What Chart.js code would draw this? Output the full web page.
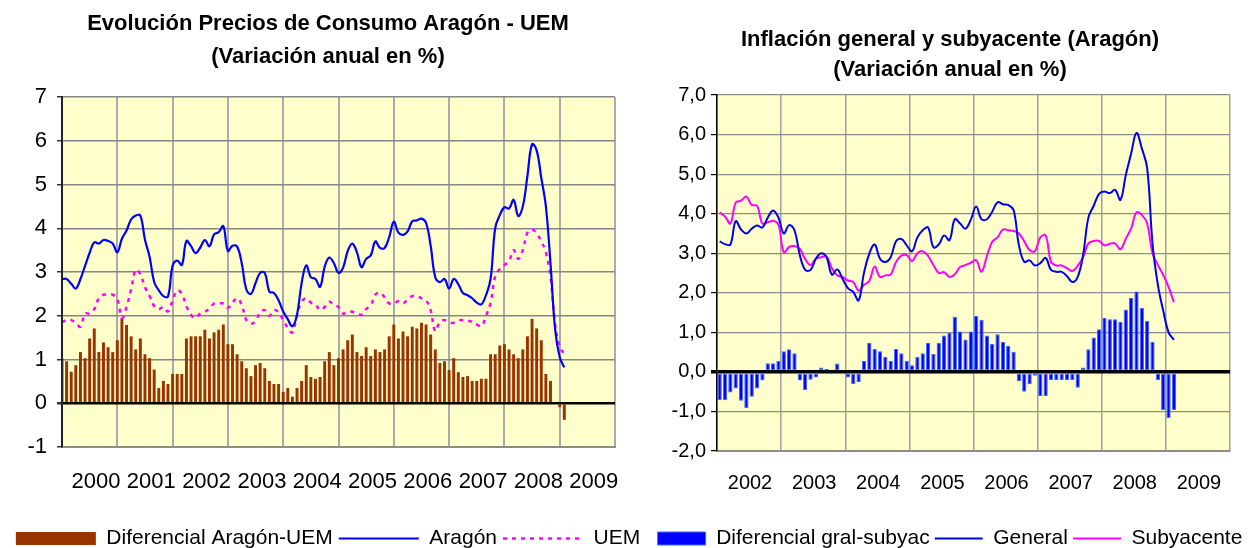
<!DOCTYPE html>
<html lang="es">
<head>
<meta charset="utf-8">
<title>IPC Aragón - UEM</title>
<script src="https://cdn.jsdelivr.net/npm/chart.js@4.4.1/dist/chart.umd.min.js"></script>
<style>
  html, body { margin: 0; padding: 0; background: #fff; }
  #wrap { position: relative; width: 1250px; height: 548px; background: #fff; overflow: hidden; }
  #left { position: absolute; left: 0; top: 0; }
  #right { position: absolute; left: 650px; top: 0; }
</style>
</head>
<body>
<div id="wrap">
  <canvas id="left" width="656" height="548"></canvas>
  <canvas id="right" width="600" height="548"></canvas>
</div>
<script>
// Left chart: monthly series, ene-2000 .. feb-2009
const years1 = ['2000', '2001', '2002', '2003', '2004', '2005', '2006', '2007', '2008', '2009'];

const difAragonUem = [
  1.03, 0.96, 0.72, 0.87, 1.17, 1.03, 1.48, 1.71, 1.17, 1.39, 1.28, 1.17,
  1.44, 1.95, 1.79, 1.53, 1.23, 1.48, 1.12, 1.03, 0.77, 0.35, 0.51, 0.44,
  0.67, 0.67, 0.67, 1.48, 1.53, 1.53, 1.53, 1.68, 1.48, 1.62, 1.68, 1.80,
  1.35, 1.35, 1.12, 0.96, 0.80, 0.62, 0.87, 0.92, 0.80, 0.51, 0.44, 0.44,
  0.26, 0.35, 0.15, 0.35, 0.51, 0.87, 0.60, 0.56, 0.60, 0.96, 1.17, 0.87,
  1.03, 1.23, 1.44, 1.57, 1.17, 1.08, 1.28, 1.08, 1.23, 1.17, 1.23, 1.53,
  1.80, 1.48, 1.64, 1.53, 1.75, 1.71, 1.84, 1.80, 1.57, 1.23, 0.92, 0.96,
  0.76, 1.03, 0.71, 0.60, 0.62, 0.51, 0.51, 0.56, 0.56, 1.12, 1.12, 1.32,
  1.35, 1.23, 1.12, 1.03, 1.23, 1.53, 1.93, 1.71, 1.44, 0.67, 0.51, 0.00,
  -0.09, -0.38
];

const aragon = [
  2.84, 2.84, 2.73, 2.62, 2.84, 3.14, 3.44, 3.68, 3.65, 3.73, 3.71, 3.65,
  3.45, 3.76, 3.95, 4.20, 4.29, 4.29, 3.74, 3.35, 2.77, 2.58, 2.45, 2.44,
  3.14, 3.26, 3.16, 3.71, 3.59, 3.43, 3.56, 3.73, 3.59, 3.86, 3.91, 4.05,
  3.48, 3.60, 3.58, 3.20, 2.60, 2.50, 2.75, 2.98, 2.98, 2.55, 2.52, 2.35,
  2.10, 1.92, 1.76, 2.02, 2.75, 3.15, 2.88, 2.84, 2.66, 3.12, 3.33, 3.20,
  2.98, 3.10, 3.48, 3.65, 3.45, 3.11, 3.30, 3.38, 3.70, 3.55, 3.55, 3.80,
  4.15, 3.90, 3.85, 3.93, 4.16, 4.18, 4.22, 4.12, 3.60, 2.88, 2.77, 2.84,
  2.62, 2.84, 2.72, 2.52, 2.47, 2.40, 2.30, 2.26, 2.47, 2.84, 4.00, 4.30,
  4.48, 4.45, 4.65, 4.28, 4.50, 5.20, 5.92, 5.78, 5.15, 4.50, 3.20, 1.70,
  1.05, 0.82
];

const uem = [
  1.85, 1.90, 1.90, 1.83, 1.75, 2.05, 2.05, 2.15, 2.40, 2.48, 2.47, 2.48,
  2.38, 1.95, 2.20, 2.60, 3.05, 2.95, 2.65, 2.45, 2.22, 2.15, 2.20, 2.10,
  2.35, 2.58, 2.50, 2.22, 2.02, 1.95, 2.05, 2.09, 2.17, 2.28, 2.28, 2.28,
  2.18, 2.30, 2.40, 2.25, 1.90, 1.82, 1.88, 2.08, 2.13, 2.00, 2.13, 2.08,
  1.90, 1.72, 1.62, 2.02, 2.32, 2.40, 2.30, 2.26, 2.13, 2.20, 2.32, 2.24,
  2.20, 2.05, 2.09, 2.09, 2.05, 2.02, 2.15, 2.24, 2.48, 2.53, 2.42, 2.28,
  2.28, 2.33, 2.28, 2.38, 2.45, 2.45, 2.40, 2.35, 2.12, 1.65, 1.86, 1.90,
  1.85, 1.84, 1.89, 1.90, 1.89, 1.86, 1.80, 1.76, 2.00, 2.30, 2.90, 3.07,
  3.16, 3.25, 3.50, 3.30, 3.50, 3.90, 3.97, 3.88, 3.70, 3.45, 2.90, 1.80,
  1.30, 1.12
];

// Right chart: monthly series, ene-2002 .. feb-2009
const years2 = ['2002', '2003', '2004', '2005', '2006', '2007', '2008', '2009'];

const difGralSubyac = [
  -0.72, -0.72, -0.52, -0.42, -0.73, -0.92, -0.63, -0.42, -0.22, 0.22, 0.22, 0.28,
  0.52, 0.57, 0.47, -0.22, -0.46, -0.20, -0.14, 0.11, 0.07, -0.06, 0.21, -0.06,
  -0.14, -0.31, -0.26, 0.28, 0.73, 0.58, 0.52, 0.38, 0.28, 0.58, 0.47, 0.28,
  0.17, 0.38, 0.47, 0.73, 0.45, 0.73, 0.92, 0.98, 1.39, 1.02, 0.82, 1.02,
  1.41, 1.32, 0.92, 0.71, 0.95, 0.76, 0.66, 0.51, -0.23, -0.50, -0.31, -0.10,
  -0.61, -0.61, -0.21, -0.21, -0.21, -0.21, -0.21, -0.40, 0.11, 0.57, 0.87, 1.08,
  1.37, 1.33, 1.33, 1.27, 1.58, 1.87, 2.03, 1.62, 1.29, 0.76, -0.21, -0.97,
  -1.17, -0.97
];

const general = [
  3.30, 3.23, 3.22, 3.81, 3.60, 3.50, 3.62, 3.70, 3.65, 3.90, 4.08, 3.90,
  3.50, 3.71, 3.58, 2.95, 2.58, 2.58, 2.86, 3.00, 2.90, 2.46, 2.59, 2.35,
  2.12, 2.02, 1.81, 2.50, 2.99, 3.22, 2.86, 2.78, 2.90, 3.30, 3.36, 3.20,
  3.05, 3.40, 3.58, 3.65, 3.15, 3.22, 3.45, 3.33, 3.86, 3.75, 3.62, 3.85,
  4.18, 3.86, 3.86, 4.05, 4.29, 4.24, 4.22, 4.09, 3.20, 2.78, 2.82, 2.69,
  2.75, 2.88, 2.58, 2.53, 2.53, 2.42, 2.27, 2.40, 2.95, 3.90, 4.20, 4.50,
  4.56, 4.52, 4.60, 4.35, 4.98, 5.52, 6.04, 5.65, 5.15, 3.25, 2.20, 1.55,
  1.00, 0.81
];

const subyacente = [
  4.03, 3.93, 3.75, 4.28, 4.33, 4.43, 4.22, 4.20, 3.75, 3.78, 3.82, 3.72,
  3.02, 3.16, 3.18, 3.11, 2.85, 2.70, 2.86, 2.90, 2.92, 2.62, 2.44, 2.40,
  2.31, 2.27, 2.05, 2.20, 2.30, 2.66, 2.40, 2.44, 2.46, 2.78, 2.94, 2.95,
  2.80, 3.00, 3.05, 2.93, 2.70, 2.50, 2.52, 2.40, 2.47, 2.65, 2.70, 2.76,
  2.82, 2.53, 2.92, 3.29, 3.40, 3.60, 3.58, 3.56, 3.50, 3.30, 3.08, 3.05,
  3.40, 3.45, 2.78, 2.69, 2.69, 2.62, 2.55, 2.68, 2.90, 3.25, 3.31, 3.31,
  3.20, 3.24, 3.25, 3.10, 3.37, 3.63, 4.03, 3.97, 3.75, 3.00, 2.70, 2.45,
  2.15, 1.76
];

Chart.defaults.font.family = 'Arial, "Liberation Sans", sans-serif';
Chart.defaults.color = '#000';

// yellow plot background
const plotBg = {
  id: 'plotBg',
  beforeDraw(chart, args, opts) {
    const { ctx, chartArea: a } = chart;
    ctx.save();
    ctx.fillStyle = opts.color || '#ffffcc';
    ctx.fillRect(a.left, a.top, a.width, a.height);
    ctx.restore();
  }
};

// points on a month axis; shift = 0 on tick marks, 0.5 between them
function monthPoints(vals, shift) {
  return vals.map((v, i) => ({ x: i + shift, y: v }));
}

function legendItems(chart) {
  return chart.data.datasets.map((ds, i) => ({
    text: ds.label,
    datasetIndex: i,
    fillStyle: ds.type === 'bar' ? ds.backgroundColor : 'transparent',
    strokeStyle: ds.type === 'bar' ? ds.borderColor || ds.backgroundColor : ds.borderColor,
    lineWidth: ds.type === 'bar' ? (ds.borderWidth || 0) : ds.borderWidth,
    lineDash: ds.borderDash || [],
    pointStyle: ds.type === 'bar' ? 'rect' : 'line',
    fontColor: '#000',
    hidden: false
  }));
}

const zeroLine = (w, normal, color) => ({
  color: c => c.tick.value === 0 ? '#000' : color,
  lineWidth: c => c.tick.value === 0 ? w : normal
});

// empty axis that only reserves room on the right of the plot
const spacer = w => ({
  position: 'right', display: true,
  ticks: { display: false }, grid: { display: false }, border: { display: false },
  afterFit: s => { s.width = w; }
});

new Chart(document.getElementById('left'), {
  type: 'bar',
  data: {
    datasets: [
      { type: 'bar', label: 'Diferencial Aragón-UEM', data: monthPoints(difAragonUem, 0), backgroundColor: '#993300', borderWidth: 0, categoryPercentage: 0.8, barPercentage: 0.8, order: 3 },
      { type: 'line', label: 'Aragón', data: monthPoints(aragon, 0), borderColor: '#0000ff', borderWidth: 2.2, pointRadius: 0, tension: 0.4, order: 1 },
      { type: 'line', label: 'UEM', data: monthPoints(uem, 0), borderColor: '#ff00ff', borderWidth: 2.5, borderDash: [4, 5], pointRadius: 0, tension: 0.4, order: 2 }
    ]
  },
  options: {
    responsive: false,
    animation: false,
    layout: { padding: { left: 0, right: 0, top: 0, bottom: -11 } },
    scales: {
      x: {
        type: 'linear', min: 0, max: 120, offset: false,
        ticks: { stepSize: 12, autoSkip: false, maxRotation: 0, labelOffset: 34, padding: 22, font: { size: 22 }, callback: v => years1[v / 12] || '' },
        grid: { color: '#ababab', lineWidth: 2, drawTicks: false, offset: false },
        border: { color: '#8c8c8c', width: 2 },
        afterFit: s => { s.height = 75; }
      },
      y: {
        min: -1, max: 7,
        ticks: { stepSize: 1, padding: 10, font: { size: 22 } },
        grid: { ...zeroLine(2.5, 1.5, '#858585'), tickLength: 5, tickColor: '#333' },
        border: { color: '#222', width: 2, z: 1 },
        afterFit: s => { s.width = 62; }
      },
      pad: spacer(41)
    },
    plugins: {
      title: {
        display: true,
        text: ['Evolución Precios de Consumo Aragón - UEM', '(Variación anual en %)'],
        color: '#000',
        font: { size: 22, weight: 'bold', lineHeight: '33px' },
        padding: { top: 7, bottom: 24 }
      },
      legend: {
        position: 'bottom',
        labels: { usePointStyle: true, pointStyleWidth: 80, boxHeight: 13, padding: 6, font: { size: 21 }, color: '#000', generateLabels: legendItems }
      },
      tooltip: { enabled: false },
      plotBg: { color: '#ffffcc' }
    }
  },
  plugins: [plotBg]
});

new Chart(document.getElementById('right'), {
  type: 'bar',
  data: {
    datasets: [
      { type: 'bar', label: 'Diferencial gral-subyac', data: monthPoints(difGralSubyac, 0.5), backgroundColor: '#0000ff', borderColor: '#3d6bff', borderWidth: 1, borderSkipped: false, categoryPercentage: 1, barPercentage: 0.8, order: 3 },
      { type: 'line', label: 'General', data: monthPoints(general, 0.5), borderColor: '#0000ee', borderWidth: 2, pointRadius: 0, tension: 0.4, order: 1 },
      { type: 'line', label: 'Subyacente', data: monthPoints(subyacente, 0.5), borderColor: '#ff00ff', borderWidth: 2, pointRadius: 0, tension: 0.4, order: 2 }
    ]
  },
  options: {
    responsive: false,
    animation: false,
    layout: { padding: { left: 0, right: 0, top: 0, bottom: -11 } },
    scales: {
      x: {
        type: 'linear', min: 0, max: 96, offset: false,
        ticks: { stepSize: 12, autoSkip: false, maxRotation: 0, labelOffset: 33, padding: 20, font: { size: 20 }, callback: v => years2[v / 12] || '' },
        grid: { color: '#a0a0a0', lineWidth: 1.5, drawTicks: false, offset: false },
        border: { color: '#8c8c8c', width: 2 },
        afterFit: s => { s.height = 72; }
      },
      y: {
        min: -2, max: 7,
        ticks: { stepSize: 1, padding: 5, font: { size: 20 }, callback: v => v.toFixed(1).replace('.', ',') },
        grid: { ...zeroLine(3.5, 1.2, '#8c8c8c'), tickLength: 6, tickColor: '#000' },
        border: { color: '#000', width: 1.5, z: 1 },
        afterFit: s => { s.width = 67; }
      },
      pad: spacer(6)
    },
    plugins: {
      title: {
        display: true,
        text: ['Inflación general y subyacente (Aragón)', '(Variación anual en %)'],
        color: '#000',
        font: { size: 22, weight: 'bold', lineHeight: '30px' },
        padding: { top: 25, bottom: 10 }
      },
      legend: {
        position: 'bottom',
        labels: { usePointStyle: true, pointStyleWidth: 48, boxHeight: 13, padding: 5, font: { size: 21 }, color: '#000', generateLabels: legendItems }
      },
      tooltip: { enabled: false },
      plotBg: { color: '#ffffcc' }
    }
  },
  plugins: [plotBg]
});
</script>
</body>
</html>
